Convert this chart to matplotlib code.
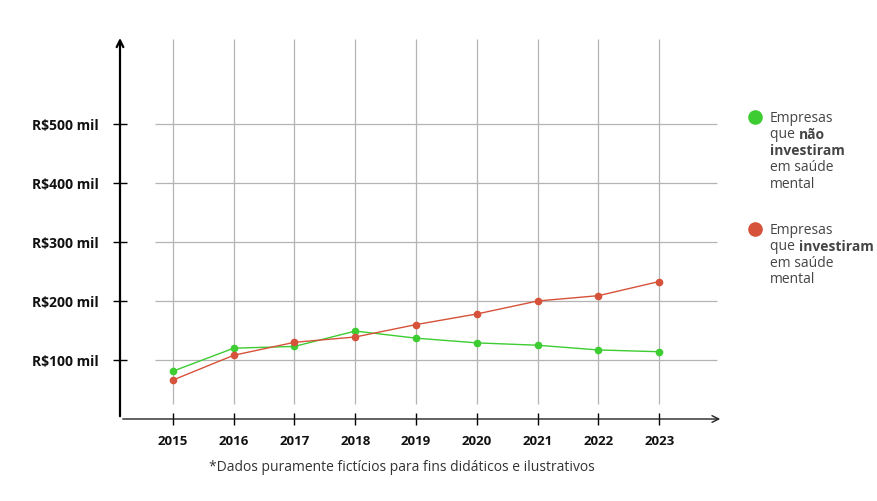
import matplotlib
matplotlib.use('Agg')
import matplotlib.pyplot as plt

plt.rcParams['font.family'] = ['Open Sans', 'DejaVu Sans']

anos = [2015, 2016, 2017, 2018, 2019, 2020, 2021, 2022, 2023]
nao_investiram = [81, 120, 123, 149, 137, 129, 125, 117, 114]
investiram = [66, 108, 130, 139, 160, 178, 200, 209, 233]
y_ticks = [100, 200, 300, 400, 500]
y_labels = ['R$100 mil', 'R$200 mil', 'R$300 mil', 'R$400 mil', 'R$500 mil']
nota = '*Dados puramente fictícios para fins didáticos e ilustrativos'

verde = '#3dcc31'
vermelho = '#d6523a'
cinza_grade = '#b4b4b4'
texto = '#454545'

W, H = 877, 502
fig = plt.figure(figsize=(W / 100, H / 100), dpi=100)
# eixo de 120px a 720px na horizontal, 40px a 420px na vertical
ax = fig.add_axes([120 / W, 1 - 420 / H, 600 / W, 380 / H])
ax.set_xlim(2014.13, 2024.0)
ax.set_ylim(0, 644)

for s in ax.spines.values():
    s.set_visible(False)

# grade manual (não toca nos eixos)
ax.hlines(y_ticks, 2014.71, 2023.95, color=cinza_grade, lw=0.9, zorder=1)
ax.vlines(anos, 25, 644, color=cinza_grade, lw=0.9, zorder=1)

ax.plot(anos, nao_investiram, color=verde, lw=1.0, marker='o', ms=4.5, zorder=3)
ax.plot(anos, investiram, color=vermelho, lw=1.0, marker='o', ms=4.5, zorder=3)

# eixos com setas
ax.annotate('', xy=(0, 1.01), xytext=(0, 0), xycoords='axes fraction',
            arrowprops=dict(arrowstyle='->', color='black', lw=1.6, mutation_scale=12),
            annotation_clip=False)
ax.annotate('', xy=(1.005, 0), xytext=(0, 0), xycoords='axes fraction',
            arrowprops=dict(arrowstyle='->', color='#222222', lw=1.0, mutation_scale=12),
            annotation_clip=False)

ax.set_yticks(y_ticks)
ax.set_yticklabels(y_labels, fontsize=10, fontweight='bold', color='#111111')
ax.set_xticks(anos)
ax.set_xticklabels([str(a) for a in anos], fontsize=9.5, fontweight='bold', color='#111111')
ax.tick_params(axis='y', direction='inout', length=10, width=1.0, pad=10)
ax.tick_params(axis='x', direction='inout', length=9, width=1.0, pad=6)

fig.text(402 / W, 1 - 468 / H, nota, ha='center', va='center', fontsize=10, color='#333333')

# legenda manual
def legenda(y_px, cor, linhas):
    fig.add_artist(plt.Line2D([755 / W], [1 - y_px / H], marker='o', ms=9.5,
                              color=cor, lw=0, transform=fig.transFigure))
    for i, partes in enumerate(linhas):
        y = 1 - (y_px + i * 16.6) / H
        prev = None
        for txt, peso in partes:
            if prev is None:
                prev = fig.text(770 / W, y, txt, ha='left', va='center',
                                fontsize=10, fontweight=peso, color=texto)
            else:
                prev = ax.annotate(txt, xy=(1, 0.5), xycoords=prev, va='center', ha='left',
                                   fontsize=10, fontweight=peso, color=texto,
                                   annotation_clip=False)

legenda(118, verde, [[('Empresas', 'normal')],
                     [('que ', 'normal'), ('não', 'bold')],
                     [('investiram', 'bold')],
                     [('em saúde', 'normal')],
                     [('mental', 'normal')]])
legenda(230, vermelho, [[('Empresas', 'normal')],
                        [('que ', 'normal'), ('investiram', 'bold')],
                        [('em saúde', 'normal')],
                        [('mental', 'normal')]])

fig.savefig('out.png', dpi=100)
